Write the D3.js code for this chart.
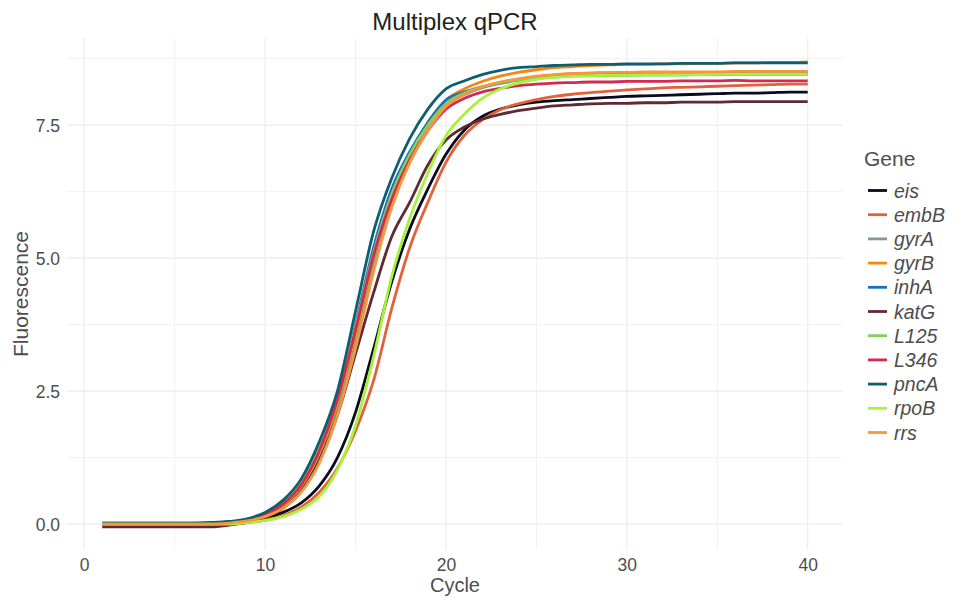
<!DOCTYPE html>
<html>
<head>
<meta charset="utf-8">
<script src="https://cdn.jsdelivr.net/npm/d3@7"></script>
<style>
  body { margin: 0; background: #fff; }
  text { font-family: "Liberation Sans", Arial, sans-serif; }
</style>
</head>
<body>
<svg id="chart" width="957" height="598"></svg>
<script>
const WIDTH = 957;
const HEIGHT = 598;

// panel box (ggplot theme_minimal look)
const PANEL = { left: 67, right: 843, top: 38, bottom: 550 };

const cycles = d3.range(1, 41);

const genes = ["eis", "embB", "gyrA", "gyrB", "inhA", "katG", "L125", "L346", "pncA", "rpoB", "rrs"];
const geneColors = ["#0b0b1e", "#e3603a", "#7c9e86", "#f5870e", "#1a72bf", "#5e2a33",
                    "#7fd35b", "#d32a4f", "#0f5e70", "#a8f23a", "#f7963c"];

// fluorescence per cycle 1..40
const eis = [0, 0, 0, 0, 0, 0, 0, 0.02, 0.05, 0.11, 0.22, 0.4, 0.72, 1.25, 2.1, 3.3, 4.55, 5.55, 6.3, 6.95,
  7.4, 7.66, 7.8, 7.88, 7.93, 7.96, 7.98, 8.0, 8.02, 8.04, 8.05, 8.06, 8.07, 8.08, 8.09, 8.1, 8.1, 8.11, 8.12, 8.12];
const embB = [0, 0, 0, 0, 0, 0, 0, 0.01, 0.03, 0.07, 0.16, 0.32, 0.6, 1.05, 1.75, 2.7, 4.05, 5.2, 6.05, 6.8,
  7.3, 7.6, 7.79, 7.9, 7.98, 8.04, 8.08, 8.11, 8.14, 8.16, 8.18, 8.2, 8.21, 8.22, 8.23, 8.24, 8.25, 8.26, 8.27, 8.27];
const gyrA = [0.01, 0.01, 0.01, 0.01, 0.01, 0.01, 0.01, 0.02, 0.06, 0.15, 0.32, 0.64, 1.22, 2.15, 3.4, 4.85, 6.0, 6.8, 7.4, 7.85,
  8.07, 8.2, 8.28, 8.34, 8.38, 8.41, 8.43, 8.44, 8.44, 8.44, 8.45, 8.45, 8.45, 8.45, 8.45, 8.45, 8.45, 8.45, 8.45, 8.45];
const gyrB = [0, 0, 0, 0, 0, 0, 0, 0.03, 0.08, 0.18, 0.37, 0.72, 1.35, 2.3, 3.6, 5.05, 6.2, 6.95, 7.55, 7.97,
  8.18, 8.32, 8.42, 8.49, 8.54, 8.58, 8.6, 8.62, 8.63, 8.64, 8.64, 8.65, 8.65, 8.66, 8.66, 8.67, 8.67, 8.68, 8.68, 8.69];
const inhA = [0.02, 0.02, 0.02, 0.02, 0.02, 0.02, 0.02, 0.04, 0.09, 0.2, 0.4, 0.78, 1.45, 2.4, 3.75, 5.2, 6.3, 7.0, 7.55, 7.97,
  8.12, 8.22, 8.3, 8.36, 8.41, 8.44, 8.46, 8.47, 8.48, 8.48, 8.48, 8.48, 8.48, 8.48, 8.48, 8.48, 8.48, 8.48, 8.48, 8.48];
const katG = [-0.05, -0.05, -0.05, -0.05, -0.05, -0.05, -0.05, -0.02, 0.03, 0.12, 0.3, 0.62, 1.2, 2.05, 3.2, 4.35, 5.4, 6.05, 6.75, 7.22,
  7.46, 7.61, 7.7, 7.77, 7.82, 7.86, 7.88, 7.9, 7.91, 7.91, 7.92, 7.92, 7.93, 7.93, 7.93, 7.94, 7.94, 7.94, 7.94, 7.94];
const L125 = [0.01, 0.01, 0.01, 0.01, 0.01, 0.01, 0.02, 0.04, 0.09, 0.2, 0.41, 0.8, 1.45, 2.4, 3.7, 5.1, 6.2, 6.95, 7.5, 7.9,
  8.1, 8.22, 8.3, 8.35, 8.38, 8.4, 8.42, 8.43, 8.43, 8.44, 8.44, 8.44, 8.44, 8.45, 8.45, 8.45, 8.45, 8.45, 8.45, 8.45];
const L346 = [0, 0, 0, 0, 0, 0, 0, 0.03, 0.08, 0.18, 0.38, 0.74, 1.38, 2.35, 3.65, 5.05, 6.1, 6.85, 7.4, 7.8,
  8.0, 8.12, 8.19, 8.24, 8.27, 8.29, 8.3, 8.31, 8.31, 8.32, 8.32, 8.32, 8.33, 8.33, 8.33, 8.34, 8.33, 8.33, 8.33, 8.33];
const pncA = [0.02, 0.02, 0.02, 0.02, 0.02, 0.02, 0.03, 0.05, 0.1, 0.22, 0.45, 0.85, 1.55, 2.5, 4.0, 5.5, 6.5, 7.25, 7.8, 8.18,
  8.33, 8.45, 8.53, 8.58, 8.6, 8.62, 8.63, 8.64, 8.64, 8.65, 8.65, 8.65, 8.66, 8.66, 8.66, 8.67, 8.67, 8.67, 8.67, 8.67];
const rpoB = [0, 0, 0, 0, 0, 0, 0, 0, 0.03, 0.07, 0.14, 0.28, 0.52, 1.02, 1.85, 3.15, 4.65, 5.75, 6.6, 7.3,
  7.7, 8.0, 8.18, 8.29, 8.36, 8.4, 8.42, 8.43, 8.44, 8.44, 8.45, 8.45, 8.45, 8.45, 8.46, 8.46, 8.46, 8.46, 8.46, 8.46];
const rrs = [0, 0, 0, 0, 0, 0, 0, 0.02, 0.06, 0.14, 0.3, 0.6, 1.15, 2.05, 3.3, 4.75, 5.95, 6.8, 7.4, 7.85,
  8.08, 8.22, 8.31, 8.37, 8.42, 8.45, 8.47, 8.48, 8.49, 8.49, 8.5, 8.5, 8.5, 8.5, 8.5, 8.51, 8.51, 8.51, 8.51, 8.51];

const seriesValues = [eis, embB, gyrA, gyrB, inhA, katG, L125, L346, pncA, rpoB, rrs];

const xTicks = [0, 10, 20, 30, 40];
const xMinor = [5, 15, 25, 35];
const yTicks = [0, 2.5, 5, 7.5];
const yMinor = [1.25, 3.75, 6.25, 8.75];

const svg = d3.select("#chart");

// same 5% expansion as ggplot
const x = d3.scaleLinear().domain([-0.95, 41.95]).range([PANEL.left, PANEL.right]);
const y = d3.scaleLinear().domain([-0.487, 9.137]).range([PANEL.bottom, PANEL.top]);

// grid
const grid = svg.append("g");
grid.selectAll("line.xmin").data(xMinor).enter().append("line")
  .attr("x1", d => x(d)).attr("x2", d => x(d))
  .attr("y1", PANEL.top).attr("y2", PANEL.bottom)
  .attr("stroke", "#f2f2f2").attr("stroke-width", 1);
grid.selectAll("line.ymin").data(yMinor).enter().append("line")
  .attr("y1", d => y(d)).attr("y2", d => y(d))
  .attr("x1", PANEL.left).attr("x2", PANEL.right)
  .attr("stroke", "#f2f2f2").attr("stroke-width", 1);
grid.selectAll("line.xmaj").data(xTicks).enter().append("line")
  .attr("x1", d => x(d)).attr("x2", d => x(d))
  .attr("y1", PANEL.top).attr("y2", PANEL.bottom)
  .attr("stroke", "#ebebeb").attr("stroke-width", 1.1);
grid.selectAll("line.ymaj").data(yTicks).enter().append("line")
  .attr("y1", d => y(d)).attr("y2", d => y(d))
  .attr("x1", PANEL.left).attr("x2", PANEL.right)
  .attr("stroke", "#ebebeb").attr("stroke-width", 1.1);

// axes (labels only, no domain line)
const xAxis = svg.append("g")
  .attr("transform", `translate(0,${PANEL.bottom})`)
  .call(d3.axisBottom(x).tickValues(xTicks).tickSize(0).tickPadding(9).tickFormat(d3.format("d")));
const yAxis = svg.append("g")
  .attr("transform", `translate(${PANEL.left},0)`)
  .call(d3.axisLeft(y).tickValues(yTicks).tickSize(0).tickPadding(7).tickFormat(d3.format(".1f")));
[xAxis, yAxis].forEach(a => {
  a.select(".domain").remove();
  a.selectAll("text")
    .style("font-family", "'Liberation Sans', Arial, sans-serif")
    .style("font-size", "17.5px")
    .attr("fill", "#4d4d4d");
});
yAxis.selectAll("text").attr("dy", "0.36em");

// lines
const line = d3.line()
  .x((d, i) => x(cycles[i]))
  .y(d => y(d))
  .curve(d3.curveMonotoneX);

svg.append("g").selectAll("path").data(seriesValues).enter().append("path")
  .attr("d", d => line(d))
  .attr("fill", "none")
  .attr("stroke", (d, i) => geneColors[i])
  .attr("stroke-width", 2.8)
  .attr("stroke-linejoin", "round");

// titles
svg.append("text")
  .attr("x", 455).attr("y", 30)
  .attr("text-anchor", "middle")
  .style("font-size", "24px").attr("fill", "#222")
  .text("Multiplex qPCR");
svg.append("text")
  .attr("x", 455).attr("y", 592)
  .attr("text-anchor", "middle")
  .style("font-size", "20px").attr("fill", "#4d4d4d")
  .text("Cycle");
svg.append("text")
  .attr("transform", `translate(28,${(PANEL.top + PANEL.bottom) / 2}) rotate(-90)`)
  .attr("text-anchor", "middle")
  .style("font-size", "21px").attr("fill", "#4d4d4d")
  .text("Fluorescence");

// legend
const legend = svg.append("g").attr("transform", "translate(864,0)");
legend.append("text")
  .attr("x", 0).attr("y", 166)
  .style("font-size", "21px").attr("fill", "#4d4d4d")
  .text("Gene");
const item = legend.selectAll("g.item").data(genes).enter().append("g")
  .attr("transform", (d, i) => `translate(0,${190.5 + i * 24.2})`);
item.append("line")
  .attr("x1", 4).attr("x2", 23)
  .attr("stroke", (d, i) => geneColors[i])
  .attr("stroke-width", 2.8);
item.append("text")
  .attr("x", 30).attr("dy", "0.36em")
  .style("font-size", "19.5px").style("font-style", "italic")
  .attr("fill", "#4d4d4d")
  .text(d => d);
</script>
</body>
</html>
